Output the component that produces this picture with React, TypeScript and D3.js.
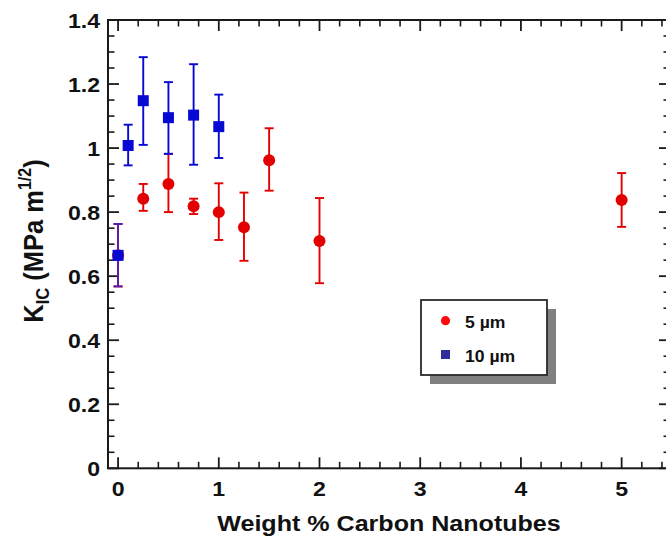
import React from "react";
import * as d3 from "d3";

// ---- data ----
const redX = [0, 0.25, 0.5, 0.75, 1.0, 1.25, 1.5, 2.0, 5.0];
const redY = [0.665, 0.842, 0.888, 0.818, 0.8, 0.753, 0.962, 0.71, 0.838];
const redHi = [0.763, 0.888, 0.982, 0.842, 0.89, 0.861, 1.062, 0.844, 0.922];
const redLo = [0.568, 0.804, 0.8, 0.794, 0.713, 0.648, 0.867, 0.578, 0.754];

const blueX = [0, 0.1, 0.25, 0.5, 0.75, 1.0];
const blueY = [0.665, 1.008, 1.148, 1.095, 1.103, 1.067];
const blueHi = [0.763, 1.073, 1.284, 1.206, 1.262, 1.167];
const blueLo = [0.568, 0.946, 1.01, 0.982, 0.948, 0.969];

const xTickValues = [0, 1, 2, 3, 4, 5];
const xTickLabels = ["0", "1", "2", "3", "4", "5"];
const yTickValues = [0, 0.2, 0.4, 0.6, 0.8, 1.0, 1.2, 1.4];
const yTickLabels = ["0", "0.2", "0.4", "0.6", "0.8", "1", "1.2", "1.4"];

const legendLabels = ["5 \u00b5m", "10 \u00b5m"];

const W = 666;
const H = 538;
const FONT = "'Liberation Sans', Arial, Helvetica, sans-serif";
const RED = "#e30000";
const BLUE = "#0808d4";
const PURPLE = "#5420b0";
const AXIS = "#1a1a1a";
const SX = 1.1; // horizontal stretch of the original image

export default function App() {
  const left = 108, right = 672, top = 20, bottom = 468.3;
  const x = d3.scaleLinear().domain([-0.1, 5.5]).range([left, right]);
  const y = d3.scaleLinear().domain([0, 1.4]).range([bottom, top]);

  const xMinor = d3.range(0, 28).map((i) => +(i * 0.2).toFixed(2)).filter((v) => Math.abs(v - Math.round(v)) > 1e-6);
  const yMinor = d3.range(0, 29).map((i) => +(i * 0.05).toFixed(2)).filter((v) => !yTickValues.some((t) => Math.abs(t - v) < 1e-6));

  const majorLen = 11, minorLen = 6.5;

  const red = redX.map((v, i) => ({ x: v, y: redY[i], hi: redHi[i], lo: redLo[i] }));
  const blue = blueX.map((v, i) => ({ x: v, y: blueY[i], hi: blueHi[i], lo: blueLo[i] }));

  const cap = 4.5;
  const errBar = (d: any, color: string, key: string) => (
    <g key={key} stroke={color} strokeWidth={1.9} fill="none">
      <line x1={x(d.x)} x2={x(d.x)} y1={y(d.hi)} y2={y(d.lo)} />
      <line x1={x(d.x) - cap} x2={x(d.x) + cap} y1={y(d.hi)} y2={y(d.hi)} />
      <line x1={x(d.x) - cap} x2={x(d.x) + cap} y1={y(d.lo)} y2={y(d.lo)} />
    </g>
  );

  const overlaps = (d: any) =>
    red.some((r) => Math.abs(r.x - d.x) < 1e-9 && Math.abs(r.hi - d.hi) < 1e-9 && Math.abs(r.lo - d.lo) < 1e-9);

  const stretchText = (tx: number, ty: number, content: any, props: any = {}, rot = 0) => (
    <text
      transform={`translate(${tx},${ty}) scale(${SX},1)${rot ? ` rotate(${rot})` : ""}`}
      x={0}
      y={0}
      fontFamily={FONT}
      {...props}
    >
      {content}
    </text>
  );

  const sq = 11;

  return (
    <svg width={W} height={H} style={{ position: "absolute", left: 0, top: 0, background: "#fff" }}>
      <rect x={0} y={0} width={W} height={H} fill="#fff" />

      {/* frame */}
      <rect x={left} y={top} width={right - left} height={bottom - top} fill="none" stroke={AXIS} strokeWidth={2} />

      {/* x ticks (bottom & top) */}
      {xTickValues.map((v) => (
        <g key={"xm" + v} stroke={AXIS} strokeWidth={1.8}>
          <line x1={x(v)} x2={x(v)} y1={bottom} y2={bottom - majorLen} />
          <line x1={x(v)} x2={x(v)} y1={top} y2={top + majorLen} />
        </g>
      ))}
      {xMinor.map((v) => (
        <g key={"xn" + v} stroke={AXIS} strokeWidth={1.6}>
          <line x1={x(v)} x2={x(v)} y1={bottom} y2={bottom - minorLen} />
          <line x1={x(v)} x2={x(v)} y1={top} y2={top + minorLen} />
        </g>
      ))}
      {/* y ticks (left & right) */}
      {yTickValues.map((v) => (
        <g key={"ym" + v} stroke={AXIS} strokeWidth={1.8}>
          <line x1={left} x2={left + majorLen} y1={y(v)} y2={y(v)} />
          <line x1={right} x2={right - majorLen - 2} y1={y(v)} y2={y(v)} />
        </g>
      ))}
      {yMinor.map((v) => (
        <g key={"yn" + v} stroke={AXIS} strokeWidth={1.6}>
          <line x1={left} x2={left + minorLen} y1={y(v)} y2={y(v)} />
          <line x1={right} x2={right - minorLen - 2} y1={y(v)} y2={y(v)} />
        </g>
      ))}

      {/* tick labels */}
      {xTickValues.map((v, i) =>
        <g key={"xl" + v}>
          {stretchText(x(v), 496, xTickLabels[i], { textAnchor: "middle", fontSize: 21, fontWeight: "bold", fill: "#111" })}
        </g>
      )}
      {yTickValues.map((v, i) =>
        <g key={"yl" + v}>
          {stretchText(100, y(v) + 7.6, yTickLabels[i], { textAnchor: "end", fontSize: 21, fontWeight: "bold", fill: "#111" })}
        </g>
      )}

      {/* axis titles */}
      {stretchText(389, 531, "Weight % Carbon Nanotubes", { textAnchor: "middle", fontSize: 22.8, fontWeight: "bold", fill: "#111" })}
      {stretchText(
        43,
        241,
        <>
          <tspan>K</tspan>
          <tspan fontSize={16.5} dy={5}>IC</tspan>
          <tspan dy={-5}> (MPa m</tspan>
          <tspan fontSize={16} dy={-11}>1/2</tspan>
          <tspan dy={11}>)</tspan>
        </>,
        { textAnchor: "middle", fontSize: 25.5, fontWeight: "bold", fill: "#111" },
        -90
      )}

      {/* 5 um series */}
      {red.map((d, i) => errBar(d, RED, "re" + i))}
      {red.map((d, i) => (
        <circle key={"rc" + i} cx={x(d.x)} cy={y(d.y)} r={6} fill={RED} />
      ))}

      {/* 10 um series */}
      {blue.map((d, i) => errBar(d, overlaps(d) ? PURPLE : BLUE, "be" + i))}
      {blue.map((d, i) => (
        <rect key={"bs" + i} x={x(d.x) - sq / 2} y={y(d.y) - sq / 2} width={sq} height={sq} fill={BLUE} />
      ))}

      {/* legend */}
      <rect x={430} y={309} width={126} height={75} fill="#808080" />
      <rect x={421} y={300} width={126} height={75} fill="#fff" stroke="#2a2a2a" strokeWidth={1.8} />
      <circle cx={445.5} cy={320.7} r={4.6} fill="#ff0a0a" />
      <rect x={441} y={350} width={9} height={9} fill="#2e2e9a" />
      {stretchText(465, 327.5, legendLabels[0], { fontSize: 16, fontWeight: "bold", fill: "#111" })}
      {stretchText(465, 361.5, legendLabels[1], { fontSize: 16, fontWeight: "bold", fill: "#111" })}
    </svg>
  );
}
